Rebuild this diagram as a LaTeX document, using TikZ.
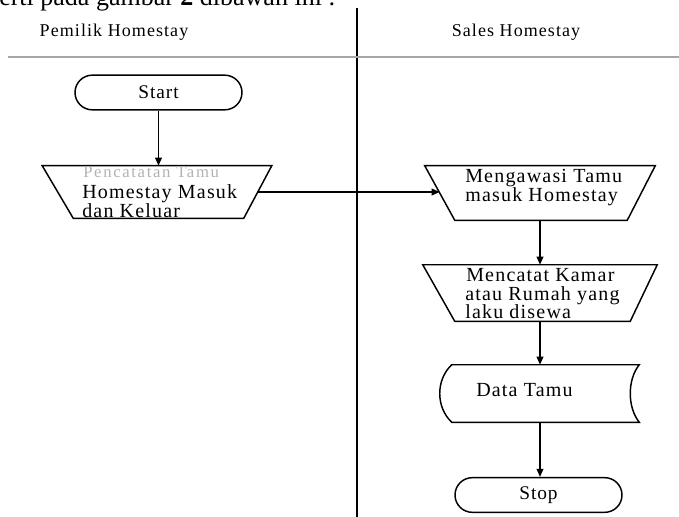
\documentclass[tikz,border=0pt]{standalone}
\usepackage{fontspec}
\setmainfont{Liberation Serif}
\newfontfamily\hdrfont[LetterSpace=6]{Liberation Serif}
\newfontfamily\boxfont[LetterSpace=6]{Liberation Serif}
\newfontfamily\termfont[LetterSpace=5]{Liberation Serif}
\newfontfamily\faintfont[LetterSpace=10]{Liberation Serif}
\usetikzlibrary{shapes.misc,arrows.meta,calc}
\begin{document}
\begin{tikzpicture}[x=0.75pt,y=-0.75pt,
  holder/.style={draw=none, inner sep=0pt},
  shapeline/.style={line width=1.1pt},
  termbox/.style={rounded rectangle, draw, line width=1.1pt, minimum width=125.25pt,
    minimum height=26pt, inner sep=0pt, font=\termfont\fontsize{14.5}{15}\selectfont},
  boxtxt/.style={anchor=base west, inner sep=0pt, font=\boxfont\fontsize{15}{15}\selectfont},
  hdr/.style={anchor=base, inner sep=0pt, font=\hdrfont\fontsize{13.5}{14}\selectfont},
  flow/.style={line width=1.1pt, -{Triangle[length=6pt,width=5pt]}},
]
\useasboundingbox (0,0) rectangle (679,517);
\begin{scope}
\clip (0,0) rectangle (679,517);
\node[anchor=base west, inner sep=0pt, font=\fontsize{19.5}{20}\selectfont] (toptext) at (-1,6) {erti pada gambar \textbf{2} dibawah ini :};
\end{scope}

% lanes
\coordinate (vtop) at (357,8);
\coordinate (vbot) at (357,517);
\draw[line width=0.9pt] (vtop) -- (vbot);
\coordinate (hl) at (8,57);
\coordinate (hr) at (679,57);
\draw[line width=1.6pt, gray!70] (hl) -- (hr);
\node[hdr] (h1) at (114,37) {Pemilik Homestay};
\node[hdr] (h2) at (516,37) {Sales Homestay};

% terminals
\node[termbox] (start) at (158.5,92.5) {Start};
\node[termbox] (stop) at (538.5,495) {Stop};

% manual operation trapezoids (wide side on top)
\node[holder, minimum width=171.75pt, minimum height=39pt] (lt) at (157,192) {};
\draw[shapeline] (lt.north west) -- (lt.north east) -- ($(lt.south east)+(-28,0)$)
  -- ($(lt.south west)+(31,0)$) -- cycle;
\path (lt.north east) -- coordinate[midway] (ltr) ($(lt.south east)+(-28,0)$);

\node[holder, minimum width=172.5pt, minimum height=40.5pt] (rt1) at (540,193) {};
\draw[shapeline] (rt1.north west) -- (rt1.north east) -- ($(rt1.south east)+(-28,0)$)
  -- ($(rt1.south west)+(30,0)$) -- cycle;
\path (rt1.north west) -- coordinate[midway] (rt1l) ($(rt1.south west)+(30,0)$);

\node[holder, minimum width=175.5pt, minimum height=42pt] (rt2) at (540,293) {};
\draw[shapeline] (rt2.north west) -- (rt2.north east) -- ($(rt2.south east)+(-27,0)$)
  -- ($(rt2.south west)+(32,0)$) -- cycle;

% stored data
\node[holder, minimum width=140.25pt, minimum height=42.75pt] (data) at (545.5,393.5) {};
\draw[shapeline] (data.north west) -- (data.north east)
  .. controls ($(data.north east)+(-12,15)$) and ($(data.south east)+(-12,-15)$) .. (data.south east)
  -- (data.south west)
  .. controls ($(data.south west)+(-16,-15)$) and ($(data.north west)+(-16,15)$) .. (data.north west) -- cycle;

% texts
\node[anchor=base west, inner sep=0pt, text=gray!60, font=\faintfont\fontsize{12.5}{13}\selectfont] (lt1) at (83,177) {Pencatatan Tamu};
\node[boxtxt] (lt2) at (82,199) {Homestay Masuk};
\node[boxtxt] (lt3) at (82,217) {dan Keluar};
\node[boxtxt] (r11) at (465,182) {Mengawasi Tamu};
\node[boxtxt] (r12) at (465,201) {masuk Homestay};
\node[boxtxt] (r21) at (466,281) {Mencatat Kamar};
\node[boxtxt] (r22) at (465,300) {atau Rumah yang};
\node[boxtxt] (r23) at (465,318) {laku disewa};
\node[boxtxt] (dt) at (476,396) {Data Tamu};

% connectors
\draw[flow] (start.south) -- (start.south |- lt.north);
\draw[flow] (ltr) -- (ltr -| rt1l);
\draw[flow] (rt1.south) -- (rt2.north);
\draw[flow] (rt2.south) -- (rt2.south |- data.north);
\draw[flow] (rt2.south |- data.south) -- (rt2.south |- stop.north);
\end{tikzpicture}
\end{document}
